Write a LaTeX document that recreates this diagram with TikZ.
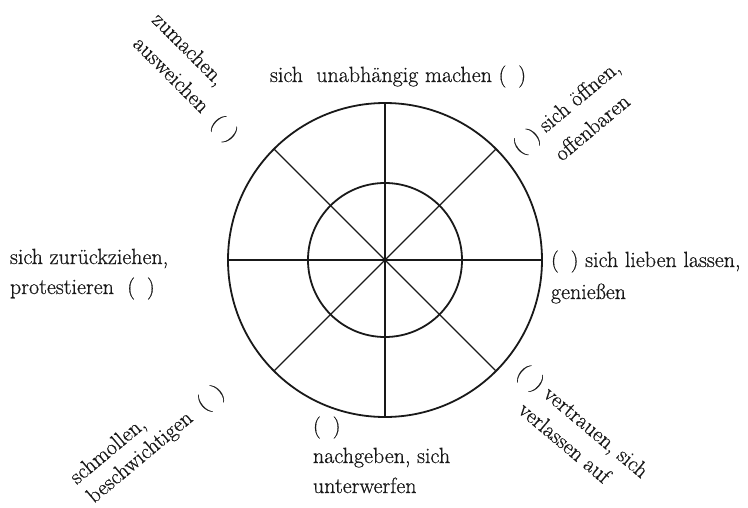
\documentclass[tikz,border=0pt]{standalone}
\usepackage{fontspec}
\setmainfont{Latin Modern Roman}[FakeBold=0.6]
\begin{document}
\begin{tikzpicture}[x=1pt,y=-1pt,
  lbl/.style={anchor=base west,inner sep=0pt,outer sep=0pt,text=black!90,font=\fontsize{22}{30}\selectfont},
  ring/.style={draw=black!90,line width=1.8pt},
  spoke/.style={draw=black!90,line width=1.4pt}]
\useasboundingbox (0,0) rectangle (748,507);
\coordinate (c) at (385,260);
\draw[ring] (c) circle[radius=157];
\draw[ring] (c) circle[radius=77];
\coordinate (e) at (542,260);
\coordinate (w) at (228,260);
\coordinate (n) at (385,103);
\coordinate (s) at (385,417);
\coordinate (ne) at (496,149);
\coordinate (sw) at (274,371);
\coordinate (nw) at (274,149);
\coordinate (se) at (496,371);
\draw[spoke] (w) -- (e);
\draw[spoke] (n) -- (s);
\draw[spoke] (nw) -- (se);
\draw[spoke] (ne) -- (sw);
\newcommand{\pp}{(\hspace{12pt})}
% top
\node[lbl] (top) at (270,82) {sich\ \ unabhängig machen \pp};
% left
\node[lbl] (l1) at (10,264) {sich zurückziehen,};
\node[lbl] (l2) at (10,294) {protestieren\ \ \pp};
% right
\node[lbl] (r1) at (551,267) {\pp{} sich lieben lassen,};
\node[lbl] (r2) at (551,299) {genießen};
% bottom
\node[lbl] (b1) at (313,433) {\pp};
\node[lbl] (b2) at (313,463) {nachgeben, sich};
\node[lbl] (b3) at (313,493) {unterwerfen};
% top left
\node[lbl,rotate=-45] (tl1) at (151,21) {zumachen,};
\node[lbl,rotate=-45] (tl2) at (132,45) {ausweichen\ \ \pp};
% top right
\node[lbl,rotate=40] (tr1) at (520,155) {\pp{} sich öffnen,};
\node[lbl,rotate=40] (tr2) at (562,162) {offenbaren};
% bottom right
\node[lbl,rotate=-40] (br1) at (516,374) {\pp{} vertrauen, sich};
\node[lbl,rotate=-40] (br2) at (517,412) {verlassen auf};
% bottom left
\node[lbl,rotate=40] (bl1) at (77,485) {schmollen,};
\node[lbl,rotate=40] (bl2) at (94,504) {beschwichtigen\ \ \pp};
\end{tikzpicture}
\end{document}
